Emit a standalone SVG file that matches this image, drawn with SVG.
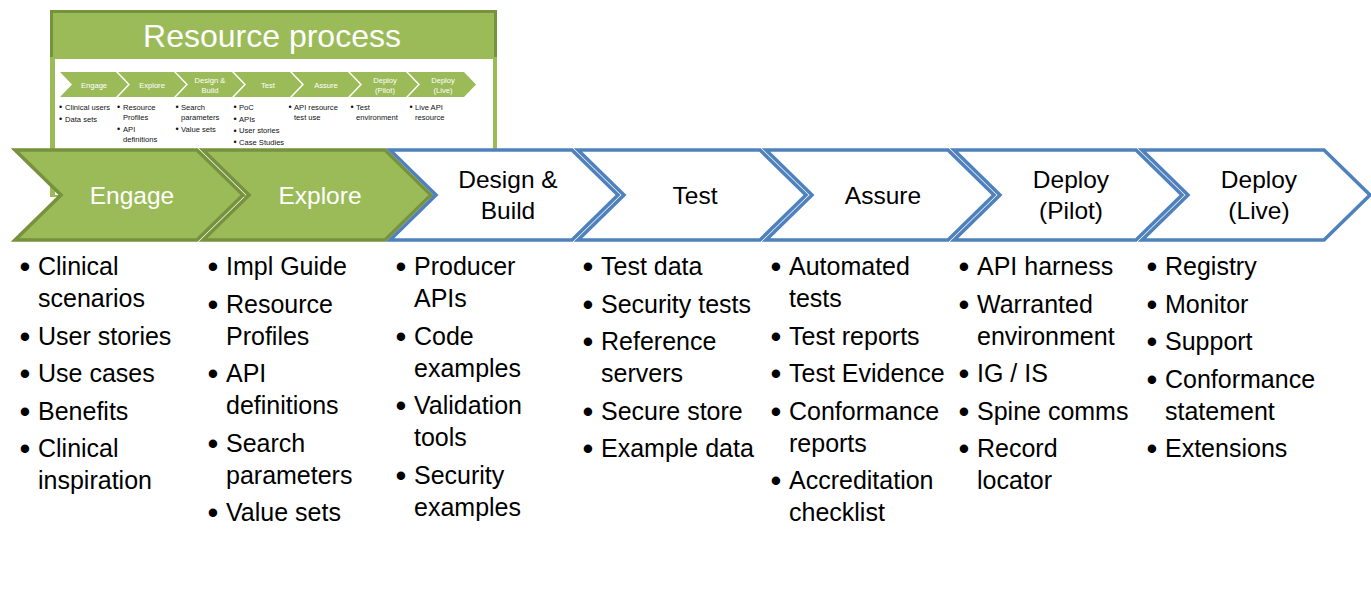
<svg xmlns="http://www.w3.org/2000/svg" width="1371" height="599" viewBox="0 0 1371 599">
<style>
text{font-family:"Liberation Sans",Arial,sans-serif}
.g{fill:#9BBB59;stroke:#76923C;stroke-width:3.5;stroke-linejoin:miter}
.b{fill:#FFFFFF;stroke:#4F81BD;stroke-width:3.5;stroke-linejoin:miter}
.sc{fill:#9BBB59}
.lw{fill:#FFFFFF;font-size:24.5px;text-anchor:middle}
.lk{fill:#000000;font-size:24.5px;text-anchor:middle}
.t{fill:#000000;font-size:25px}
.bu{fill:#000000;font-size:31px;text-anchor:middle}
.sl{fill:#FFFFFF;font-size:7.6px;text-anchor:middle}
.st{fill:#111111;font-size:7.6px}
.sb{fill:#111111;font-size:9px;text-anchor:middle}
.title{fill:#FFFFFF;font-size:32px;text-anchor:middle}
</style>
<defs>
<path id="chev" d="M0,0 L182,0 L228,45 L182,90 L0,90 L46,45 Z"/>
<path id="schev" d="M0,0 L56,0 L68,12.5 L56,25 L0,25 L12,12.5 Z"/>
</defs>
<rect width="1371" height="599" fill="#FFFFFF"/>

<g id="inset">
<rect x="50" y="10" width="447" height="187" fill="#9BBB59"/>
<rect x="55" y="59" width="438" height="136" fill="#FFFFFF"/>
<path d="M51.5,57 V11.5 H495.5 V57" fill="none" stroke="#76923C" stroke-width="3"/>
<text class="title" x="272" y="47">Resource process</text>
<use href="#schev" class="sc" x="60" y="72"/>
<use href="#schev" class="sc" x="118" y="72"/>
<use href="#schev" class="sc" x="176" y="72"/>
<use href="#schev" class="sc" x="234" y="72"/>
<use href="#schev" class="sc" x="292" y="72"/>
<use href="#schev" class="sc" x="350" y="72"/>
<use href="#schev" class="sc" x="408" y="72"/>
<text class="sl" x="94" y="87.5">Engage</text>
<text class="sl" x="152" y="87.5">Explore</text>
<text class="sl" x="210" y="82.5">Design &amp;</text>
<text class="sl" x="210" y="92.5">Build</text>
<text class="sl" x="268" y="87.5">Test</text>
<text class="sl" x="326" y="87.5">Assure</text>
<text class="sl" x="385" y="82.5">Deploy</text>
<text class="sl" x="385" y="92.5">(Pilot)</text>
<text class="sl" x="443" y="82.5">Deploy</text>
<text class="sl" x="443" y="92.5">(Live)</text>
<text class="sb" x="60.5" y="110">•</text><text class="st" x="65" y="109.7">Clinical users</text>
<text class="sb" x="60.5" y="121.8">•</text><text class="st" x="65" y="121.5">Data sets</text>
<text class="sb" x="118.5" y="110">•</text><text class="st" x="123" y="109.7">Resource</text>
<text class="st" x="123" y="120.2">Profiles</text>
<text class="sb" x="118.5" y="132">•</text><text class="st" x="123" y="131.7">API</text>
<text class="st" x="123" y="142.2">definitions</text>
<text class="sb" x="177" y="110">•</text><text class="st" x="181" y="109.7">Search</text>
<text class="st" x="181" y="120.2">parameters</text>
<text class="sb" x="177" y="132">•</text><text class="st" x="181" y="131.7">Value sets</text>
<text class="sb" x="235" y="110">•</text><text class="st" x="239" y="109.7">PoC</text>
<text class="sb" x="235" y="121.8">•</text><text class="st" x="239" y="121.5">APIs</text>
<text class="sb" x="235" y="133.6">•</text><text class="st" x="239" y="133.3">User stories</text>
<text class="sb" x="235" y="145.3">•</text><text class="st" x="239" y="145">Case Studies</text>
<text class="sb" x="290" y="110">•</text><text class="st" x="294" y="109.7">API resource</text>
<text class="st" x="294" y="120.2">test use</text>
<text class="sb" x="352" y="110">•</text><text class="st" x="356" y="109.7">Test</text>
<text class="st" x="356" y="120.2">environment</text>
<text class="sb" x="411" y="110">•</text><text class="st" x="415" y="109.7">Live API</text>
<text class="st" x="415" y="120.2">resource</text>
</g>

<g id="connectors"/>

<g id="engage">
<use href="#chev" class="g" x="15" y="150"/>
<text class="lw" x="132" y="204">Engage</text>
<text class="bu" x="25" y="277">•</text><text class="t" x="38" y="275">Clinical</text>
<text class="t" x="38" y="307">scenarios</text>
<text class="bu" x="25" y="346.5">•</text><text class="t" x="38" y="344.5">User stories</text>
<text class="bu" x="25" y="384">•</text><text class="t" x="38" y="382">Use cases</text>
<text class="bu" x="25" y="421.5">•</text><text class="t" x="38" y="419.5">Benefits</text>
<text class="bu" x="25" y="459">•</text><text class="t" x="38" y="457">Clinical</text>
<text class="t" x="38" y="489">inspiration</text>
</g>

<g id="explore">
<use href="#chev" class="g" x="203" y="150"/>
<text class="lw" x="320" y="204">Explore</text>
<text class="bu" x="213" y="277">•</text><text class="t" x="226" y="275">Impl Guide</text>
<text class="bu" x="213" y="314.5">•</text><text class="t" x="226" y="312.5">Resource</text>
<text class="t" x="226" y="344.5">Profiles</text>
<text class="bu" x="213" y="384">•</text><text class="t" x="226" y="382">API</text>
<text class="t" x="226" y="414">definitions</text>
<text class="bu" x="213" y="453.5">•</text><text class="t" x="226" y="451.5">Search</text>
<text class="t" x="226" y="483.5">parameters</text>
<text class="bu" x="213" y="523">•</text><text class="t" x="226" y="521">Value sets</text>
</g>

<g id="design-build">
<use href="#chev" class="b" x="390" y="150"/>
<text class="lk" x="508" y="188">Design &amp;</text>
<text class="lk" x="508" y="219">Build</text>
<text class="bu" x="401" y="277">•</text><text class="t" x="414" y="275">Producer</text>
<text class="t" x="414" y="307">APIs</text>
<text class="bu" x="401" y="346.5">•</text><text class="t" x="414" y="344.5">Code</text>
<text class="t" x="414" y="376.5">examples</text>
<text class="bu" x="401" y="416">•</text><text class="t" x="414" y="414">Validation</text>
<text class="t" x="414" y="446">tools</text>
<text class="bu" x="401" y="485.5">•</text><text class="t" x="414" y="483.5">Security</text>
<text class="t" x="414" y="515.5">examples</text>
</g>

<g id="test">
<use href="#chev" class="b" x="578" y="150"/>
<text class="lk" x="695" y="204">Test</text>
<text class="bu" x="588" y="277">•</text><text class="t" x="601" y="275">Test data</text>
<text class="bu" x="588" y="314.5">•</text><text class="t" x="601" y="312.5">Security tests</text>
<text class="bu" x="588" y="352">•</text><text class="t" x="601" y="350">Reference</text>
<text class="t" x="601" y="382">servers</text>
<text class="bu" x="588" y="421.5">•</text><text class="t" x="601" y="419.5">Secure store</text>
<text class="bu" x="588" y="459">•</text><text class="t" x="601" y="457">Example data</text>
</g>

<g id="assure">
<use href="#chev" class="b" x="766" y="150"/>
<text class="lk" x="883" y="204">Assure</text>
<text class="bu" x="776" y="277">•</text><text class="t" x="789" y="275">Automated</text>
<text class="t" x="789" y="307">tests</text>
<text class="bu" x="776" y="346.5">•</text><text class="t" x="789" y="344.5">Test reports</text>
<text class="bu" x="776" y="384">•</text><text class="t" x="789" y="382">Test Evidence</text>
<text class="bu" x="776" y="421.5">•</text><text class="t" x="789" y="419.5">Conformance</text>
<text class="t" x="789" y="451.5">reports</text>
<text class="bu" x="776" y="491">•</text><text class="t" x="789" y="489">Accreditation</text>
<text class="t" x="789" y="521">checklist</text>
</g>

<g id="deploy-pilot">
<use href="#chev" class="b" x="954" y="150"/>
<text class="lk" x="1071" y="188">Deploy</text>
<text class="lk" x="1071" y="219">(Pilot)</text>
<text class="bu" x="964" y="277">•</text><text class="t" x="977" y="275">API harness</text>
<text class="bu" x="964" y="314.5">•</text><text class="t" x="977" y="312.5">Warranted</text>
<text class="t" x="977" y="344.5">environment</text>
<text class="bu" x="964" y="384">•</text><text class="t" x="977" y="382">IG / IS</text>
<text class="bu" x="964" y="421.5">•</text><text class="t" x="977" y="419.5">Spine comms</text>
<text class="bu" x="964" y="459">•</text><text class="t" x="977" y="457">Record</text>
<text class="t" x="977" y="489">locator</text>
</g>

<g id="deploy-live">
<use href="#chev" class="b" x="1142" y="150"/>
<text class="lk" x="1259" y="188">Deploy</text>
<text class="lk" x="1259" y="219">(Live)</text>
<text class="bu" x="1152" y="277">•</text><text class="t" x="1165" y="275">Registry</text>
<text class="bu" x="1152" y="314.5">•</text><text class="t" x="1165" y="312.5">Monitor</text>
<text class="bu" x="1152" y="352">•</text><text class="t" x="1165" y="350">Support</text>
<text class="bu" x="1152" y="389.5">•</text><text class="t" x="1165" y="387.5">Conformance</text>
<text class="t" x="1165" y="419.5">statement</text>
<text class="bu" x="1152" y="459">•</text><text class="t" x="1165" y="457">Extensions</text>
</g>
</svg>
